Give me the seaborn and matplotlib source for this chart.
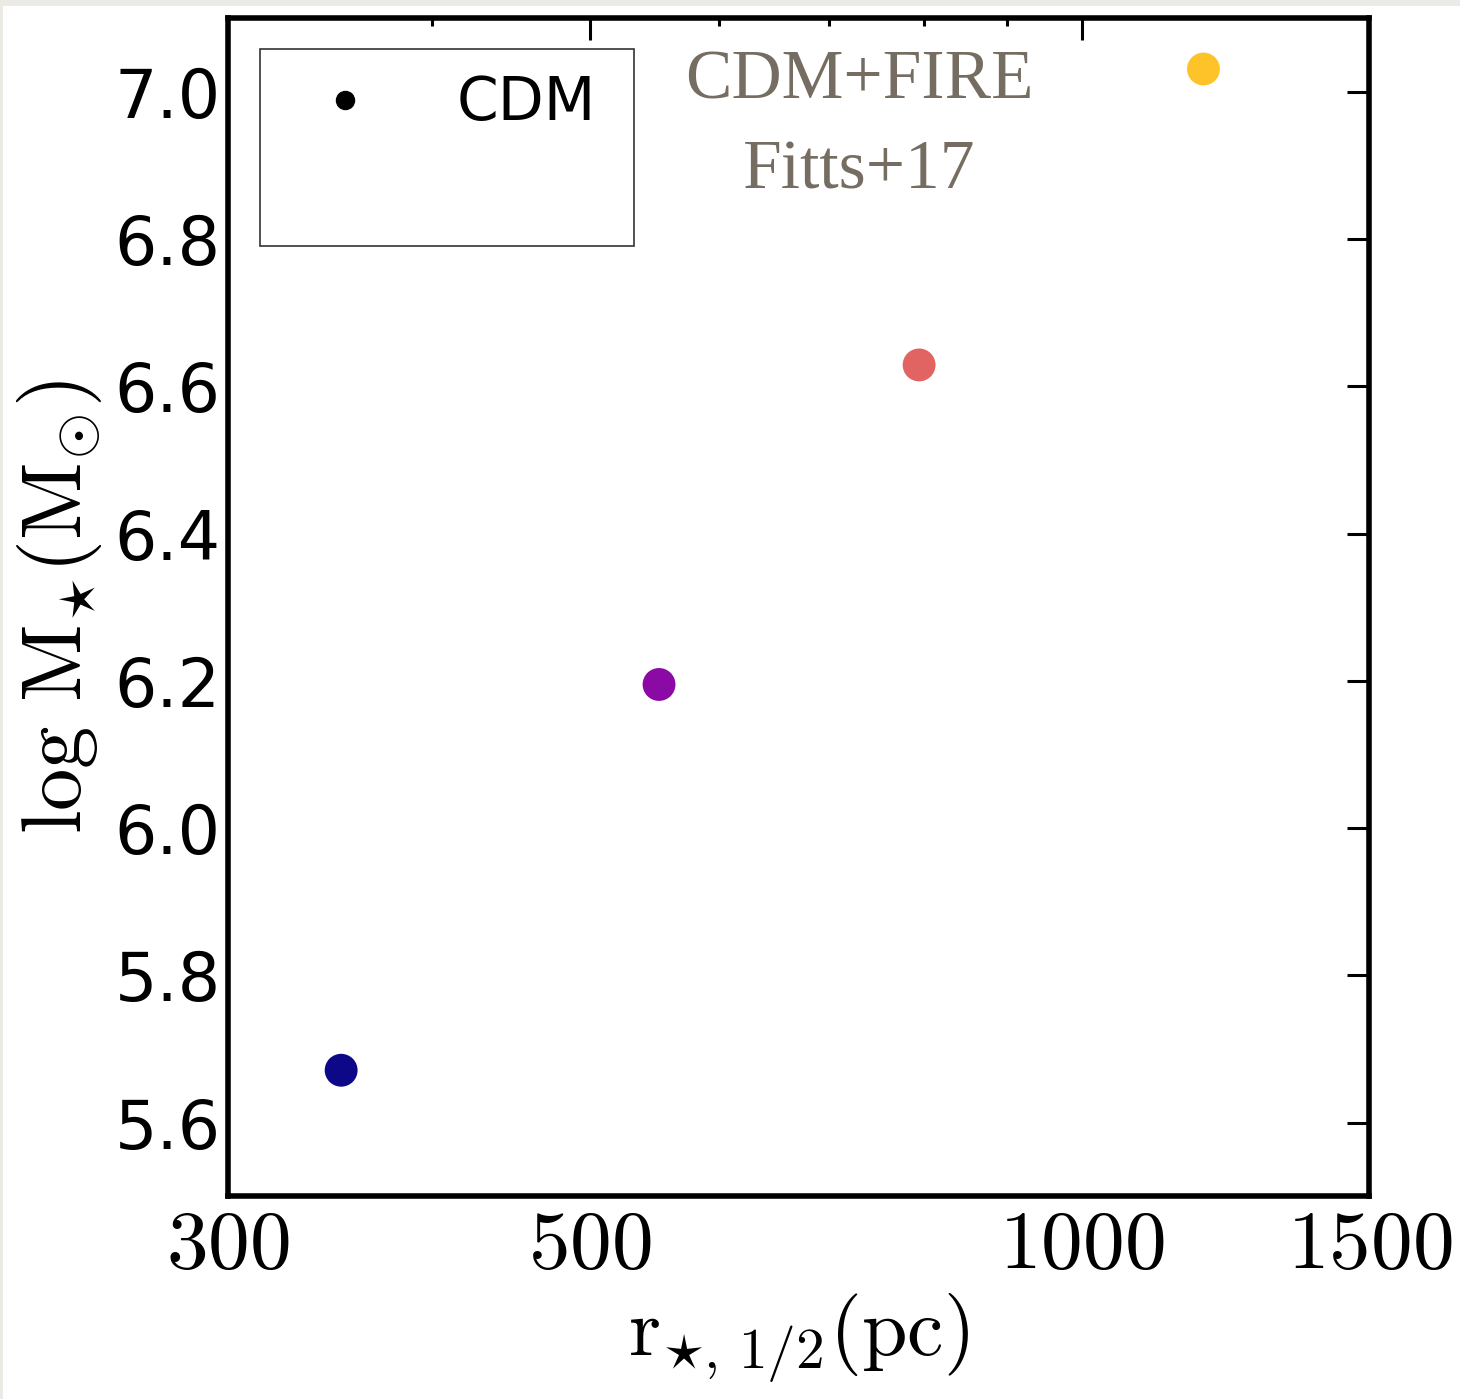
import matplotlib
matplotlib.use("Agg")
import matplotlib.pyplot as plt
from matplotlib.lines import Line2D
from matplotlib.patches import Rectangle
from matplotlib.ticker import FixedLocator, NullFormatter, NullLocator
import pandas as pd
import seaborn as sns

# half-light radius (pc) and log stellar mass for the CDM+FIRE runs
r_half = [352, 551, 795, 1187]
log_mstar = [5.671, 6.195, 6.629, 7.031]
run_ids = ["a", "b", "c", "d"]
run_colors = ["#0d0887", "#8b0aa5", "#e16462", "#fdc328"]

x_ticks = [300, 500, 1000, 1500]
x_minor = [400, 600, 700, 800, 900]
y_ticks = [5.6, 5.8, 6.0, 6.2, 6.4, 6.6, 6.8, 7.0]


def main():
    sns.set_style("white")
    plt.rcParams["font.family"] = ["DejaVu Sans"]
    plt.rcParams["mathtext.fontset"] = "cm"
    for key in ["text.color", "axes.labelcolor", "xtick.color", "ytick.color"]:
        plt.rcParams[key] = "black"

    df = pd.DataFrame({"r": r_half, "m": log_mstar, "run": run_ids})

    fig = plt.figure(figsize=(14.6, 13.99), dpi=100)
    fig.patch.set_facecolor("#ebeae5")
    fig.add_artist(Rectangle((3 / 1460, 0), 1, 1 - 6 / 1399, transform=fig.transFigure,
                             facecolor="white", edgecolor="none", zorder=-1))
    ax = fig.add_axes([0.156, 0.145, 0.782, 0.842])

    sns.scatterplot(data=df, x="r", y="m", hue="run", palette=run_colors,
                    s=560, edgecolor="none", legend=False, ax=ax, zorder=3)

    ax.set_xscale("log")
    ax.set_xlim(300, 1500)
    ax.set_ylim(5.5, 7.1)
    ax.set_xticks(x_ticks)
    ax.set_xticklabels([rf"$\mathrm{{{t}}}$" for t in x_ticks], fontsize=60)
    ax.xaxis.set_minor_locator(FixedLocator(x_minor))
    ax.xaxis.set_minor_formatter(NullFormatter())
    ax.set_yticks(y_ticks)
    ax.set_yticklabels([f"{t:.1f}" for t in y_ticks], fontsize=48)
    ax.yaxis.set_minor_locator(NullLocator())

    ax.tick_params(which="both", direction="in", top=True, right=True, width=2.2)
    ax.tick_params(which="major", length=16)
    ax.tick_params(which="minor", length=6)
    ax.tick_params(axis="x", pad=6)
    ax.tick_params(axis="y", pad=5)
    for sp in ax.spines.values():
        sp.set_linewidth(4)
        sp.set_color("black")

    ax.set_xlabel(r"$\mathrm{r}_{\star,\,1/2}(\mathrm{pc})$", fontsize=59, labelpad=4)
    ax.set_ylabel(r"$\log\,\mathrm{M}_{\star}(\mathrm{M}_{\odot})$", fontsize=61, labelpad=8)

    ax.text(0.553, 0.973, "CDM+FIRE\nFitts+17", transform=ax.transAxes,
            ha="center", va="top", fontsize=50, color="#766d62",
            family="Liberation Serif", linespacing=1.55)

    handles = [Line2D([], [], marker="o", ls="", color="black", markersize=13),
               Line2D([], [], marker="", ls="", color="none")]
    leg = ax.legend(handles, ["CDM", " " * 8], loc="upper left", bbox_to_anchor=(0.028, 0.974),
                    borderaxespad=0, fontsize=43, frameon=True, fancybox=False,
                    handlelength=2.0, handletextpad=0.87, borderpad=0.43, labelspacing=0.47)
    leg.get_frame().set_edgecolor("black")
    leg.get_frame().set_linewidth(1.2)

    fig.savefig("out.png", dpi=100, facecolor=fig.get_facecolor())
    plt.close(fig)


if __name__ == "__main__":
    main()
